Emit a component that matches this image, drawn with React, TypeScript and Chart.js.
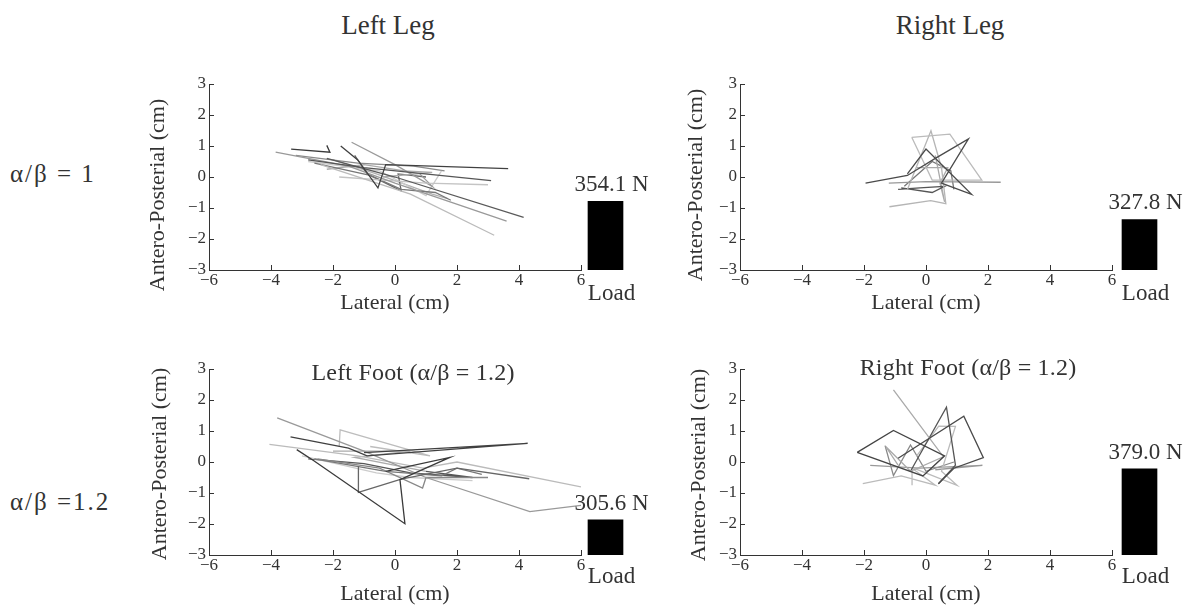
import { useEffect, useRef } from "react";
import { Chart, registerables } from "chart.js";

Chart.register(...registerables);

const FONT = '"Liberation Serif", "Times New Roman", serif';
const INK = "#333333";

// Axis ticks
const xTicks = [-6, -4, -2, 0, 2, 4, 6];
const yTicks = [-3, -2, -1, 0, 1, 2, 3];

// Load bars (N)
const loadCategory = ["Load"];
const loadLeftLeg = 354.1;
const loadRightLeg = 327.8;
const loadLeftFoot = 305.6;
const loadRightFoot = 379.0;

// ---------- Left Leg (α/β = 1) traces: [lateral, antero-posterior] ----------
const leftLegA = [[-3.35, 0.9], [-2.1, 0.8], [-2.2, 1.02]];
const leftLegB = [[-1.75, 1.0], [-1.2, 0.55], [-0.55, -0.35], [-0.3, 0.4], [3.65, 0.27]];
const leftLegC = [[-2.8, 0.55], [-1.0, 0.3], [3.1, -0.12]];
const leftLegD = [[-2.2, 0.6], [0.0, 0.0], [4.15, -1.3]];
const leftLegE = [[-3.85, 0.8], [-1.5, 0.35], [0.0, -0.2], [3.6, -1.42]];
const leftLegF = [[-2.4, 0.4], [0.5, -0.55], [3.2, -1.88]];
const leftLegG = [[-1.8, 0.0], [1.0, -0.2], [3.0, -0.25]];
const leftLegH = [[-1.4, 1.12], [0.0, 0.4], [1.2, -0.3], [0.8, 0.1]];
const leftLegI = [[-2.6, 0.45], [-0.8, 0.05], [0.2, -0.4], [1.3, -0.5], [1.8, -0.75]];
const leftLegJ = [[-2.2, 0.25], [-1.0, 0.4], [0.3, 0.2], [1.2, 0.15], [-0.4, 0.0]];
const leftLegK = [[-1.3, 0.7], [-0.9, 0.1], [0.2, -0.45], [0.1, 0.1], [1.0, 0.0]];
const leftLegL = [[-2.8, 0.5], [-0.5, 0.2], [1.0, -0.6], [1.5, 0.2]];
const leftLegM = [[-3.2, 0.7], [-1.2, 0.45], [0.6, 0.35], [1.6, 0.2]];
const leftLegN = [[-2.0, 0.55], [-0.6, 0.1], [1.2, -0.55], [1.7, -0.7]];
const leftLegColors = ["#3a3a3a", "#404040", "#555555", "#5a5a5a", "#999999", "#bbbbbb", "#c4c4c4", "#9a9a9a", "#777777", "#aaaaaa", "#666666", "#cccccc", "#8a8a8a", "#b0b0b0"];

// ---------- Right Leg (α/β = 1) ----------
const rightLegA = [[-1.95, -0.2], [-0.6, 0.05], [0.3, 0.6], [1.37, 1.23], [0.5, -0.2], [1.47, -0.56], [0.0, 0.9], [-0.6, 0.1]];
const rightLegB = [[-0.46, 1.28], [0.77, 1.38], [1.8, -0.1], [0.2, -0.1], [-0.46, 1.28]];
const rightLegC = [[-1.2, -0.2], [0.0, -0.15], [2.41, -0.17]];
const rightLegD = [[-1.18, -0.96], [0.15, -0.76], [0.64, -0.86], [0.5, 0.3], [0.16, 1.49], [-0.6, -0.4], [-0.2, 0.6]];
const rightLegE = [[-0.9, -0.4], [-0.2, -0.35], [0.6, -0.3], [0.2, -0.5], [-0.8, -0.35]];
const rightLegF = [[-0.3, 0.3], [0.7, 0.3], [0.45, -0.2], [0.6, -0.8], [0.3, 0.7]];
const rightLegG = [[-0.7, -0.3], [0.2, 0.5], [0.8, 0.2], [0.9, -0.4]];
const rightLegColors = ["#4a4a4a", "#bbbbbb", "#999999", "#b5b5b5", "#555555", "#aaaaaa", "#777777"];

// ---------- Left Foot (α/β = 1.2) ----------
const leftFootA = [[-3.17, 0.4], [-2.63, 0.05], [0.32, -1.99], [0.16, -0.57], [1.77, 0.15], [-0.3, -0.3]];
const leftFootB = [[-3.37, 0.81], [-1.5, 0.45], [-0.9, 0.2], [4.28, 0.6], [-1.0, 0.3]];
const leftFootC = [[-1.18, -0.14], [-1.18, -0.98], [0.2, -0.55], [2.0, -0.2], [4.33, -0.54]];
const leftFootD = [[-3.8, 1.42], [-1.0, 0.35], [1.0, -0.5], [4.35, -1.6], [6.0, -1.4]];
const leftFootE = [[-4.05, 0.57], [-1.2, 0.2], [0.9, -0.2], [2.0, 0.0], [6.0, -0.8]];
const leftFootF = [[-1.8, 0.5], [-1.77, 1.04], [1.13, 0.2], [-0.8, 0.5]];
const leftFootG = [[-2.5, 0.1], [-0.5, -0.2], [0.89, -0.84], [1.0, -0.5], [3.0, -0.5]];
const leftFootH = [[-2.6, 0.1], [-0.3, -0.3], [1.5, -0.45], [2.0, -0.2], [2.8, -0.4]];
const leftFootI = [[-2.0, 0.35], [0.5, 0.35], [-1.3, 0.15], [1.0, -0.3]];
const leftFootJ = [[-3.0, 0.2], [-0.6, -0.35], [0.5, -0.5], [2.5, -0.6]];
const leftFootK = [[-2.8, 0.1], [-1.0, -0.05], [0.5, -0.35], [2.5, -0.5], [1.0, -0.3]];
const leftFootColors = ["#3a3a3a", "#404040", "#666666", "#999999", "#bbbbbb", "#bdbdbd", "#888888", "#777777", "#aaaaaa", "#cccccc", "#555555"];

// ---------- Right Foot (α/β = 1.2) ----------
const rightFootA = [[-2.22, 0.31], [-1.05, 1.02], [0.6, 0.2], [-0.1, -0.45], [-2.22, 0.31]];
const rightFootB = [[-0.9, 0.12], [1.22, 1.48], [1.85, 0.14], [0.9, -0.2], [0.4, -0.7]];
const rightFootC = [[-1.05, 2.33], [0.56, 0.17], [-0.5, -0.3], [-1.3, 0.5], [-0.9, -0.1]];
const rightFootD = [[-0.5, -0.3], [0.66, 1.77], [0.95, -0.1], [0.4, -0.7]];
const rightFootE = [[-0.3, 0.2], [0.41, 1.16], [0.95, 1.15], [0.5, -0.3], [1.0, -0.75], [-0.4, -0.2]];
const rightFootF = [[-2.04, -0.7], [-0.8, -0.45], [0.3, -0.75], [-0.45, -0.2], [-0.45, -0.75]];
const rightFootG = [[-1.8, -0.11], [-0.2, -0.2], [1.82, -0.11], [0.3, -0.25]];
const rightFootH = [[-1.32, 0.53], [-1.05, -0.44], [-0.5, 0.55], [0.0, -0.3], [0.9, 0.0]];
const rightFootColors = ["#444444", "#4a4a4a", "#aaaaaa", "#555555", "#bbbbbb", "#bbbbbb", "#999999", "#888888"];

type Panel = {
  traces: number[][][];
  colors: string[];
  left: number; // chart-area left (px)
  top: number; // chart-area top (px)
  yTitleGap: number;
  yTitleShift: number;
  xTitleGap: number;
  load: number;
  barCenter: number;
  labelPad: number;
};

const W = 372;
const H = 186;

const panels: Panel[] = [
  { traces: [leftLegA, leftLegB, leftLegC, leftLegD, leftLegE, leftLegF, leftLegG, leftLegH, leftLegI, leftLegJ, leftLegK, leftLegL, leftLegM, leftLegN], colors: leftLegColors, left: 209, top: 84, yTitleGap: 51, yTitleShift: 18, xTitleGap: 39, load: loadLeftLeg, barCenter: 605.5, labelPad: 10 },
  { traces: [rightLegA, rightLegB, rightLegC, rightLegD, rightLegE, rightLegF, rightLegG], colors: rightLegColors, left: 740, top: 84, yTitleGap: 44, yTitleShift: 8, xTitleGap: 39, load: loadRightLeg, barCenter: 1139.5, labelPad: 10 },
  { traces: [leftFootA, leftFootB, leftFootC, leftFootD, leftFootE, leftFootF, leftFootG, leftFootH, leftFootI, leftFootJ, leftFootK], colors: leftFootColors, left: 209, top: 369, yTitleGap: 49, yTitleShift: 2, xTitleGap: 45, load: loadLeftFoot, barCenter: 605.5, labelPad: 8 },
  { traces: [rightFootA, rightFootB, rightFootC, rightFootD, rightFootE, rightFootF, rightFootG, rightFootH], colors: rightFootColors, left: 740, top: 369, yTitleGap: 41, yTitleShift: 3, xTitleGap: 45, load: loadRightFoot, barCenter: 1139.5, labelPad: 8 },
];

const fmt = (v: number) => (v < 0 ? "\u2212" + Math.abs(v) : String(v));

function axisDecor(p: Panel) {
  return {
    id: "axisDecor",
    afterDraw(chart: any) {
      const { ctx, chartArea: a, scales } = chart;
      const x = scales.x;
      const y = scales.y;
      ctx.save();
      ctx.strokeStyle = INK;
      ctx.lineWidth = 1;
      ctx.beginPath();
      for (const v of xTicks) {
        const px = Math.round(x.getPixelForValue(v)) + 0.5;
        ctx.moveTo(px, a.bottom);
        ctx.lineTo(px, a.bottom - 5);
      }
      for (const v of yTicks) {
        const py = Math.round(y.getPixelForValue(v)) + 0.5;
        ctx.moveTo(a.left, py);
        ctx.lineTo(a.left + 5, py);
      }
      ctx.stroke();
      ctx.fillStyle = INK;
      ctx.font = `22px ${FONT}`;
      ctx.textAlign = "center";
      ctx.textBaseline = "alphabetic";
      ctx.fillText("Lateral (cm)", (a.left + a.right) / 2, a.bottom + p.xTitleGap);
      ctx.translate(a.left - p.yTitleGap, (a.top + a.bottom) / 2 + p.yTitleShift);
      ctx.rotate(-Math.PI / 2);
      ctx.textBaseline = "middle";
      ctx.fillText("Antero-Posterial (cm)", 0, 0);
      ctx.restore();
    },
  };
}

const valueLabel = {
  id: "valueLabel",
  afterDatasetsDraw(chart: any) {
    const { ctx } = chart;
    const bar = chart.getDatasetMeta(0).data[0];
    const v = chart.data.datasets[0].data[0] as number;
    ctx.save();
    ctx.fillStyle = INK;
    ctx.font = `23px ${FONT}`;
    ctx.textAlign = "center";
    ctx.textBaseline = "alphabetic";
    ctx.fillText(`${v.toFixed(1)} N`, bar.x + 6, bar.y - 10);
    ctx.restore();
  },
};

const SC_PAD_LEFT = 80;
const SC_PAD_TOP = 14;
const SC_PAD_RIGHT = 10;
const SC_PAD_BOTTOM = 60;
const BAR_HALF = 45;
const BAR_TOP = 40;
const BAR_BOTTOM = 50;

export default function App() {
  const scatterRefs = useRef<(HTMLCanvasElement | null)[]>([]);
  const barRefs = useRef<(HTMLCanvasElement | null)[]>([]);

  useEffect(() => {
    const charts: Chart[] = [];
    panels.forEach((p, i) => {
      const c = scatterRefs.current[i];
      if (c) {
        charts.push(
          new Chart(c, {
            type: "scatter",
            data: {
              datasets: p.traces.map((t, k) => ({
                data: t.map(([xv, yv]) => ({ x: xv, y: yv })),
                showLine: true,
                borderColor: p.colors[k],
                backgroundColor: p.colors[k],
                borderWidth: 1.3,
                pointRadius: 0,
                pointHoverRadius: 0,
                tension: 0,
                fill: false,
              })),
            },
            options: {
              responsive: false,
              animation: false,
              layout: { padding: { left: 0, top: SC_PAD_TOP, right: SC_PAD_RIGHT, bottom: 0 } },
              plugins: { legend: { display: false }, tooltip: { enabled: false } },
              scales: {
                x: {
                  type: "linear",
                  min: -6,
                  max: 6,
                  afterBuildTicks: (s: any) => {
                    s.ticks = xTicks.map((v) => ({ value: v }));
                  },
                  grid: { display: false, drawTicks: false },
                  border: { display: true, color: INK, width: 1 },
                  ticks: {
                    color: INK,
                    font: { family: FONT, size: 17 },
                    padding: 0,
                    maxRotation: 0,
                    autoSkip: false,
                    callback: (v: any) => fmt(Number(v)),
                  },
                  afterFit: (s: any) => {
                    s.height = SC_PAD_BOTTOM;
                    s.paddingLeft = 0;
                    s.paddingRight = 0;
                  },
                },
                y: {
                  type: "linear",
                  min: -3,
                  max: 3,
                  afterBuildTicks: (s: any) => {
                    s.ticks = yTicks.map((v) => ({ value: v }));
                  },
                  grid: { display: false, drawTicks: false },
                  border: { display: true, color: INK, width: 1 },
                  ticks: {
                    color: INK,
                    font: { family: FONT, size: 17 },
                    padding: 3,
                    autoSkip: false,
                    callback: (v: any) => fmt(Number(v)),
                  },
                  afterFit: (s: any) => {
                    s.width = SC_PAD_LEFT;
                    s.paddingTop = 0;
                    s.paddingBottom = 0;
                  },
                },
              },
            },
            plugins: [axisDecor(p)],
          })
        );
      }
      const b = barRefs.current[i];
      if (b) {
        charts.push(
          new Chart(b, {
            type: "bar",
            data: {
              labels: loadCategory,
              datasets: [{ data: [p.load], backgroundColor: "#000000", borderWidth: 0, barThickness: 35 }],
            },
            options: {
              responsive: false,
              animation: false,
              layout: { padding: { left: 0, right: 0, top: BAR_TOP, bottom: 0 } },
              plugins: { legend: { display: false }, tooltip: { enabled: false } },
              scales: {
                x: {
                  grid: { display: false, drawTicks: false },
                  border: { display: false },
                  ticks: { color: INK, font: { family: FONT, size: 23 }, padding: p.labelPad, labelOffset: 6, maxRotation: 0 },
                  afterFit: (s: any) => {
                    s.height = BAR_BOTTOM;
                    s.paddingLeft = 0;
                    s.paddingRight = 0;
                  },
                },
                y: { display: false, min: 255, max: 523 },
              },
            },
            plugins: [valueLabel],
          })
        );
      }
    });
    return () => charts.forEach((ch) => ch.destroy());
  }, []);

  const textStyle = (size: number, spacing = 0): React.CSSProperties => ({
    position: "absolute",
    fontFamily: FONT,
    fontSize: size,
    lineHeight: `${size}px`,
    letterSpacing: spacing,
    color: INK,
    whiteSpace: "nowrap",
  });

  return (
    <div style={{ position: "absolute", left: 0, top: 0, width: 1185, height: 606, background: "#fff", overflow: "hidden" }}>
      {panels.map((p, i) => (
        <canvas
          key={`s${i}`}
          ref={(el) => {
            scatterRefs.current[i] = el;
          }}
          width={SC_PAD_LEFT + W + SC_PAD_RIGHT}
          height={SC_PAD_TOP + H + SC_PAD_BOTTOM}
          style={{ position: "absolute", left: p.left - SC_PAD_LEFT, top: p.top - SC_PAD_TOP }}
        />
      ))}
      {panels.map((p, i) => (
        <canvas
          key={`b${i}`}
          ref={(el) => {
            barRefs.current[i] = el;
          }}
          width={BAR_HALF * 2 + 1}
          height={BAR_TOP + H + BAR_BOTTOM}
          style={{ position: "absolute", left: Math.round(p.barCenter - BAR_HALF - 0.5), top: p.top - BAR_TOP }}
        />
      ))}
      <div style={{ ...textStyle(27), left: 388, top: 12, transform: "translateX(-50%)" }}>Left Leg</div>
      <div style={{ ...textStyle(27), left: 950, top: 12, transform: "translateX(-50%)" }}>Right Leg</div>
      <div style={{ ...textStyle(25, 2), left: 10, top: 161 }}>α/β = 1</div>
      <div style={{ ...textStyle(25, 2), left: 10, top: 489 }}>α/β =1.2</div>
      <div style={{ ...textStyle(24, 0.2), left: 413, top: 360, transform: "translateX(-50%)" }}>Left Foot (α/β = 1.2)</div>
      <div style={{ ...textStyle(24, 0.2), left: 968, top: 355, transform: "translateX(-50%)" }}>Right Foot (α/β = 1.2)</div>
    </div>
  );
}
